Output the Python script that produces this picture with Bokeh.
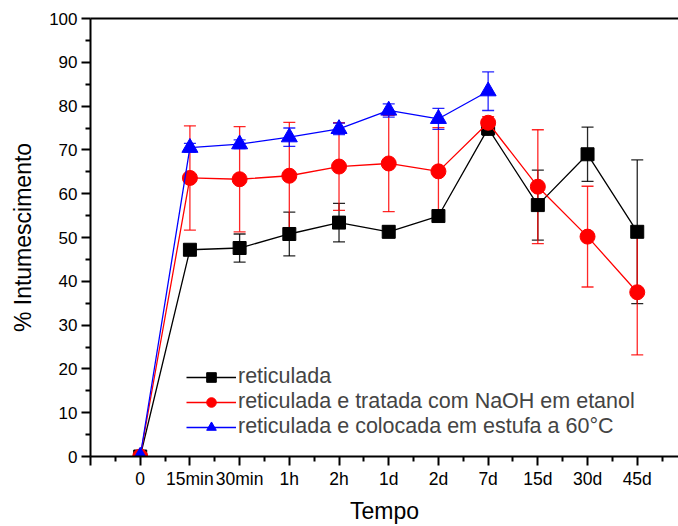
from bokeh.plotting import figure
from bokeh.models import (ColumnDataSource, FixedTicker, LinearAxis, Range1d,
                          Whisker, TeeHead, Legend, LegendItem)
from bokeh.embed import file_html
from bokeh.resources import INLINE

# Swelling (%) over time for three treatments of the crosslinked film
tempo = ["0", "15min", "30min", "1h", "2h", "1d", "2d", "7d", "15d", "30d", "45d"]

reticulada = [0, 47.2, 47.6, 50.8, 53.4, 51.3, 54.9, 74.9, 57.4, 69.0, 51.3]
reticulada_err = [0, 1.0, 3.2, 5.0, 4.4, 1.3, 0.8, 1.6, 8.0, 6.2, 16.4]

naoh = [0, 63.6, 63.3, 64.1, 66.2, 66.9, 65.1, 76.2, 61.6, 50.2, 37.5]
naoh_err = [0, 11.9, 12.0, 12.2, 10.0, 11.0, 10.0, 1.4, 13.0, 11.5, 14.3]

estufa_tempo = ["0", "15min", "30min", "1h", "2h", "1d", "2d", "7d"]
estufa = [0, 70.5, 71.3, 72.9, 74.8, 79.0, 77.1, 83.4]
estufa_err = [0, 1.0, 1.0, 2.1, 1.3, 1.5, 2.4, 4.4]

FONT = "Liberation Sans"


def make_source(labels, vals, errs):
    xs = [tempo.index(t) for t in labels]
    return ColumnDataSource(dict(
        x=xs, y=vals,
        upper=[v + e for v, e in zip(vals, errs)],
        lower=[v - e for v, e in zip(vals, errs)],
    ))


p = figure(width=678, height=526, output_backend="svg", toolbar_location=None,
           x_range=Range1d(-1, 10.83), y_range=Range1d(0, 100),
           min_border_left=90, min_border_right=0, min_border_top=18,
           min_border_bottom=69)
p.outline_line_color = None
p.xgrid.visible = False
p.ygrid.visible = False
p.background_fill_color = "white"
p.border_fill_color = "white"

# x axis: categorical positions with half-step minor ticks
xt = FixedTicker(ticks=list(range(-1, 11)),
                 minor_ticks=[i + 0.5 for i in range(-1, 11)])
p.xaxis.ticker = xt
overrides = {i: t for i, t in enumerate(tempo)}
overrides[-1] = ""
p.xaxis.major_label_overrides = overrides
p.xaxis.axis_label = "Tempo"

p.yaxis.ticker = FixedTicker(ticks=list(range(0, 101, 10)),
                             minor_ticks=list(range(5, 100, 10)))
p.yaxis.axis_label = "% Intumescimento"

for ax in (p.xaxis[0], p.yaxis[0]):
    ax.axis_line_width = 2
    ax.axis_line_color = "black"
    ax.major_tick_line_width = 2
    ax.minor_tick_line_width = 2
    ax.major_tick_in = 0
    ax.major_tick_out = 9
    ax.minor_tick_in = 0
    ax.minor_tick_out = 5
    ax.major_label_text_font = FONT
    ax.major_label_text_color = "black"
    ax.axis_label_text_font = FONT
    ax.axis_label_text_font_size = "23px"
    ax.axis_label_text_font_style = "normal"
    ax.axis_label_text_color = "black"

p.xaxis.major_label_text_font_size = "17.5px"
p.yaxis.major_label_text_font_size = "17px"
p.xaxis.major_label_standoff = 3
p.xaxis.axis_label_standoff = 6
p.yaxis.major_label_standoff = 4
p.yaxis.axis_label_standoff = 10

# top frame line
top = LinearAxis(ticker=FixedTicker(ticks=[]), axis_line_width=2,
                 major_label_text_font_size="0px", major_tick_out=0,
                 minor_tick_out=0)
p.add_layout(top, "above")

series = [
    ("reticulada", make_source(tempo, reticulada, reticulada_err),
     "black", "square", 13),
    ("reticulada e tratada com NaOH em etanol", make_source(tempo, naoh, naoh_err),
     "red", "circle", 15),
    ("reticulada e colocada em estufa a 60°C",
     make_source(estufa_tempo, estufa, estufa_err), "blue", "triangle", 16),
]

items = []
for name, src, color, marker, size in series:
    ln = p.line("x", "y", source=src, line_color=color, line_width=1.3)
    w = Whisker(source=src, base="x", upper="upper", lower="lower",
                line_color=color, line_width=1.3, line_alpha=0.85,
                upper_head=TeeHead(size=12, line_color=color, line_width=1.3,
                                   line_alpha=0.85),
                lower_head=TeeHead(size=12, line_color=color, line_width=1.3,
                                   line_alpha=0.85))
    p.add_layout(w)
    sc = p.scatter("x", "y", source=src, marker=marker, size=size,
                   fill_color=color, line_color=color)
    items.append(LegendItem(label=name, renderers=[ln, sc]))

legend = Legend(items=items, location=(96, 17), glyph_width=50, glyph_height=24,
                label_height=24, spacing=0, padding=0, margin=0, label_standoff=2,
                label_text_font=FONT, label_text_font_size="21.5px",
                border_line_color=None, background_fill_alpha=0)
p.add_layout(legend, "center")

open("out.html", "w").write(file_html(p, INLINE))
